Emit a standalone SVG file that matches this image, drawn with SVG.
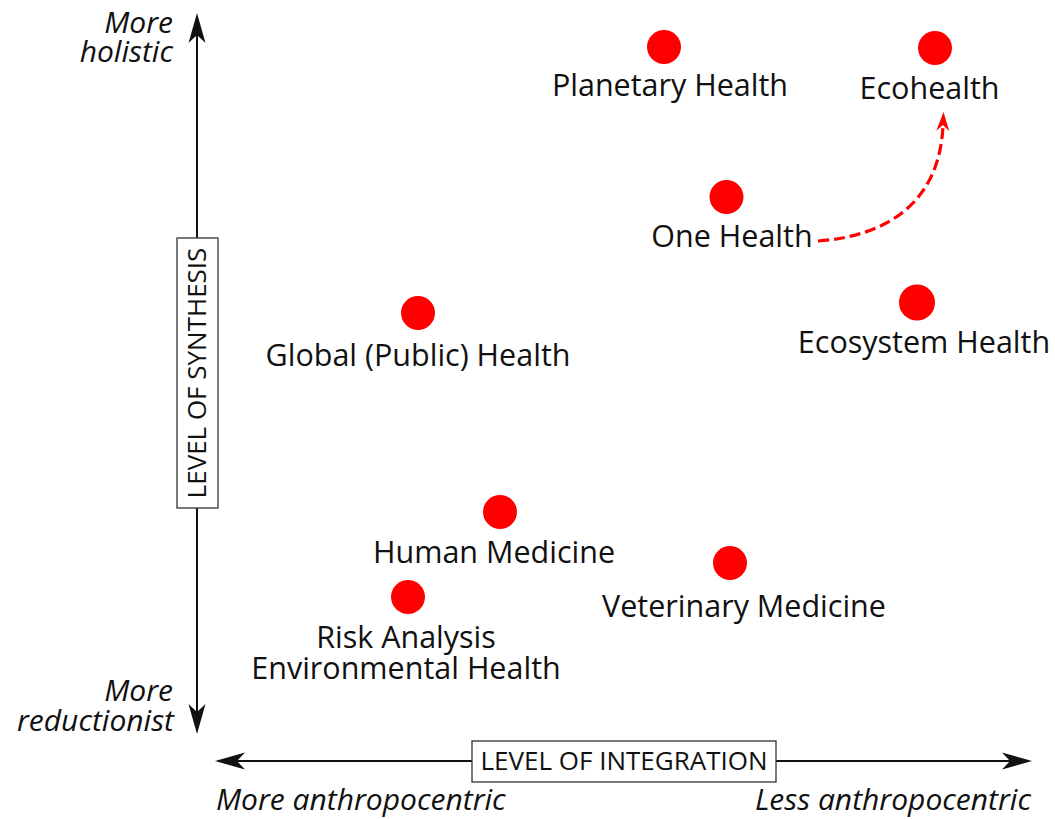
<svg xmlns="http://www.w3.org/2000/svg" width="1055" height="819" viewBox="0 0 1055 819">
<style>
.lbl{font-family:"Open Sans","Noto Sans","DejaVu Sans",sans-serif;font-size:30.5px;fill:#111;text-anchor:middle}
.it{font-family:"Open Sans","Noto Sans","DejaVu Sans",sans-serif;font-size:30px;font-style:italic;fill:#111}
.ax{font-family:"Open Sans","Noto Sans","DejaVu Sans",sans-serif;font-size:26px;fill:#111;text-anchor:middle}
.dot{fill:#ff0000}
.axis{stroke:#111;stroke-width:2;fill:none}
.box{fill:#fff;stroke:#333;stroke-width:1.3}
</style>
<defs>
<marker id="ah" viewBox="-31 -9 32 18" markerWidth="32" markerHeight="18" refX="-22" refY="0" orient="auto" markerUnits="userSpaceOnUse">
<path d="M0,0 L-30,-8.5 L-22,0 L-30,8.5 Z" fill="#111"/>
</marker>
<marker id="rh" viewBox="-20 -7 21 14" markerWidth="21" markerHeight="14" refX="-13" refY="0" orient="auto" markerUnits="userSpaceOnUse">
<path d="M0,0 L-19,-6.5 L-13,0 L-19,6.5 Z" fill="#ff0000"/>
</marker>
</defs>
<g id="axes">
<path class="axis" d="M197,238 L197,35" marker-end="url(#ah)"/>
<path class="axis" d="M197,508 L197,712" marker-end="url(#ah)"/>
<path class="axis" d="M472,761 L237,761" marker-end="url(#ah)"/>
<path class="axis" d="M776,761 L1010,761" marker-end="url(#ah)"/>
<rect class="box" x="177" y="238" width="41" height="270"/>
<text class="ax" transform="translate(206,373) rotate(-90)">LEVEL OF SYNTHESIS</text>
<rect class="box" x="472" y="741" width="304" height="41"/>
<text class="ax" x="624" y="770">LEVEL OF INTEGRATION</text>
<text class="it" x="173" y="33" text-anchor="end">More</text>
<text class="it" x="173" y="62" text-anchor="end">holistic</text>
<text class="it" x="173" y="701" text-anchor="end">More</text>
<text class="it" x="174" y="731" text-anchor="end">reductionist</text>
<text class="it" x="216" y="810">More anthropocentric</text>
<text class="it" x="1031" y="810" text-anchor="end">Less anthropocentric</text>
</g>
<g id="connectors">
<path d="M818,241 C890,236 940,200 943,125" fill="none" stroke="#ff0000" stroke-width="3.2" stroke-dasharray="11,5" marker-end="url(#rh)"/>
</g>
<g id="planetary-health"><circle class="dot" cx="664" cy="47" r="17"/><text class="lbl" x="670" y="95.5">Planetary Health</text></g>
<g id="ecohealth"><circle class="dot" cx="935" cy="48" r="17"/><text class="lbl" x="929.5" y="99">Ecohealth</text></g>
<g id="one-health"><circle class="dot" cx="726.5" cy="197" r="17"/><text class="lbl" x="732" y="247">One Health</text></g>
<g id="ecosystem-health"><circle class="dot" cx="917" cy="302.5" r="18"/><text class="lbl" x="924" y="353">Ecosystem Health</text></g>
<g id="global-public-health"><circle class="dot" cx="418" cy="313" r="17"/><text class="lbl" x="418" y="365.5">Global (Public) Health</text></g>
<g id="human-medicine"><circle class="dot" cx="500" cy="512" r="17"/><text class="lbl" x="494" y="563">Human Medicine</text></g>
<g id="veterinary-medicine"><circle class="dot" cx="730" cy="563" r="17"/><text class="lbl" x="744" y="617">Veterinary Medicine</text></g>
<g id="risk-environmental"><circle class="dot" cx="408" cy="597" r="17"/><text class="lbl" x="406" y="648">Risk Analysis</text><text class="lbl" x="406" y="679">Environmental Health</text></g>
</svg>
